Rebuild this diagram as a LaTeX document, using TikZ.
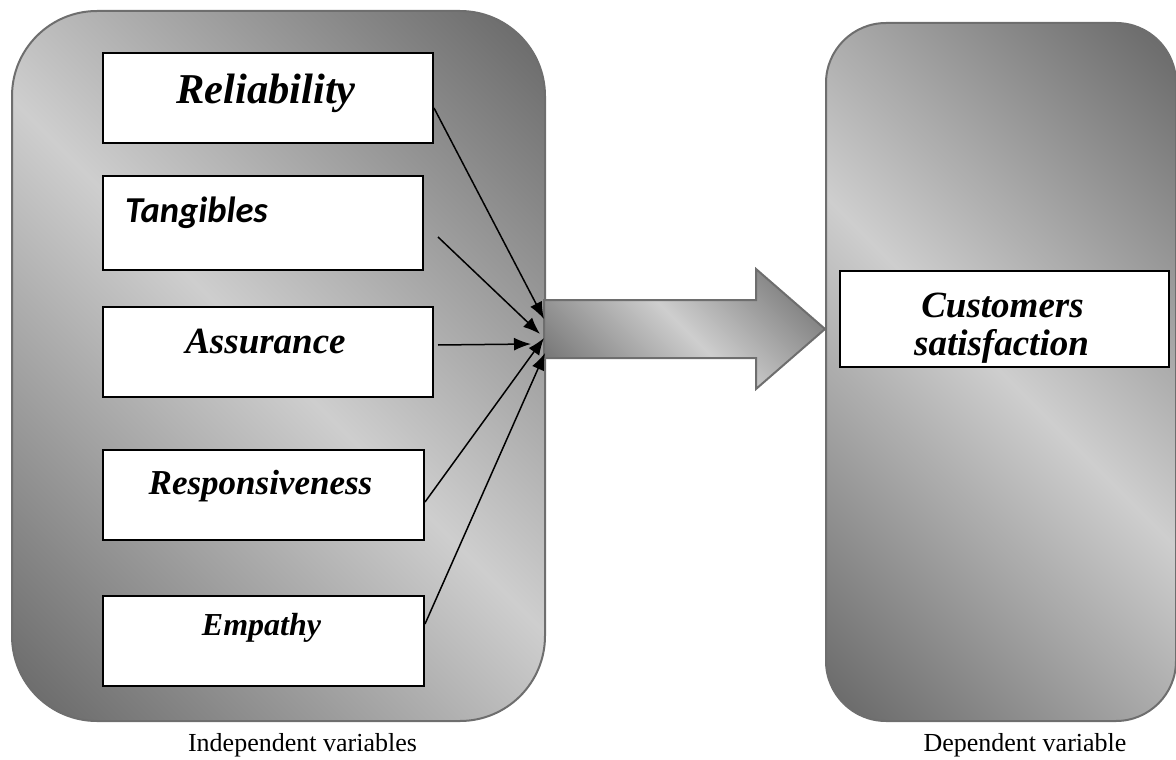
\documentclass[tikz,border=0pt]{standalone}
\usepackage{fontspec}
\setmainfont{Liberation Serif}
\newfontfamily\carlitofont{Carlito}
\usetikzlibrary{arrows.meta}
\definecolor{gdark}{RGB}{102,102,102}
\definecolor{glight}{RGB}{206,206,206}
\definecolor{bordergray}{RGB}{110,110,110}
\pgfdeclarehorizontalshading{wordgray}{100bp}{color(0bp)=(gdark); color(14.6bp)=(gdark); color(50bp)=(glight); color(85.4bp)=(gdark); color(100bp)=(gdark)}
\begin{document}
\begin{tikzpicture}[x=1pt,y=-1pt,
  panelbox/.style={draw=bordergray, line width=2pt, shade, shading=wordgray, shading angle=45, anchor=north west, inner sep=0pt},
  varbox/.style={draw=black, line width=2pt, fill=white, anchor=north west, inner sep=0pt},
  bigarrow/.style={draw=bordergray, line width=2pt, shade, shading=wordgray, shading angle=45, line join=miter},
  conn/.style={draw=black, line width=1.5pt, -{Latex[length=17pt,width=13pt]}},
  vtext/.style={anchor=base, inner sep=0pt, font=\bfseries\itshape},
  caption/.style={anchor=base, inner sep=0pt, font=\fontsize{26}{30}\selectfont}
]
\useasboundingbox (0,0) rectangle (1176,760);
% panels
\node[panelbox, minimum width=533pt, minimum height=710pt, rounded corners=85pt] (left) at (11,10) {};
\node[panelbox, minimum width=350pt, minimum height=698pt, rounded corners=60pt] (right) at (825,22) {};
% big arrow
\draw[bigarrow] (544,300) -- (756,300) -- (756,269) -- (825,329) -- (756,389) -- (756,358) -- (544,358) -- cycle;
% variable boxes
\node[varbox, minimum width=330pt, minimum height=90pt] (rel) at (102,52) {};
\node[varbox, minimum width=320pt, minimum height=94pt] (tan) at (102,175) {};
\node[varbox, minimum width=330pt, minimum height=90pt] (ass) at (102,306) {};
\node[varbox, minimum width=321pt, minimum height=90pt] (res) at (102,449) {};
\node[varbox, minimum width=321pt, minimum height=90pt] (emp) at (102,595) {};
\node[varbox, minimum width=329pt, minimum height=96pt] (cs) at (839,270) {};
% texts
\node[vtext, font=\fontsize{42.5}{50}\selectfont\bfseries\itshape] (relt) at (266,103) {Reliability};
\node[anchor=base west, inner sep=0pt, font=\fontsize{36.5}{44}\selectfont\carlitofont\bfseries\itshape] (tant) at (125,222) {Tangibles};
\node[vtext, font=\fontsize{37}{44}\selectfont\bfseries\itshape] (asst) at (265.5,353) {Assurance};
\node[vtext, font=\fontsize{35}{42}\selectfont\bfseries\itshape] (rest) at (260.5,494) {Responsiveness};
\node[vtext, font=\fontsize{32}{38}\selectfont\bfseries\itshape] (empt) at (261.5,635) {Empathy};
\node[vtext, font=\fontsize{37}{44}\selectfont\bfseries\itshape] (cst1) at (1002.5,317) {Customers};
\node[vtext, font=\fontsize{37}{44}\selectfont\bfseries\itshape] (cst2) at (1001.5,355) {satisfaction};
\node[caption] (indep) at (302.5,751) {Independent variables};
\node[caption] (dep) at (1025,751) {Dependent variable};
% connectors
\coordinate (t1) at (544,319);
\coordinate (t2) at (540,334);
\coordinate (t3) at (531,344);
\coordinate (t4) at (544,338);
\coordinate (t5) at (545,353);
\draw[conn] ([yshift=-10pt]rel.east) -- (t1);
\draw[conn] ([shift={(14pt,-14pt)}]tan.east) -- (t2);
\draw[conn] ([shift={(4pt,7pt)}]ass.east) -- (t3);
\draw[conn] ([yshift=-7pt]res.east) -- (t4);
\draw[conn] ([yshift=17pt]emp.east) -- (t5);
\end{tikzpicture}
\end{document}
